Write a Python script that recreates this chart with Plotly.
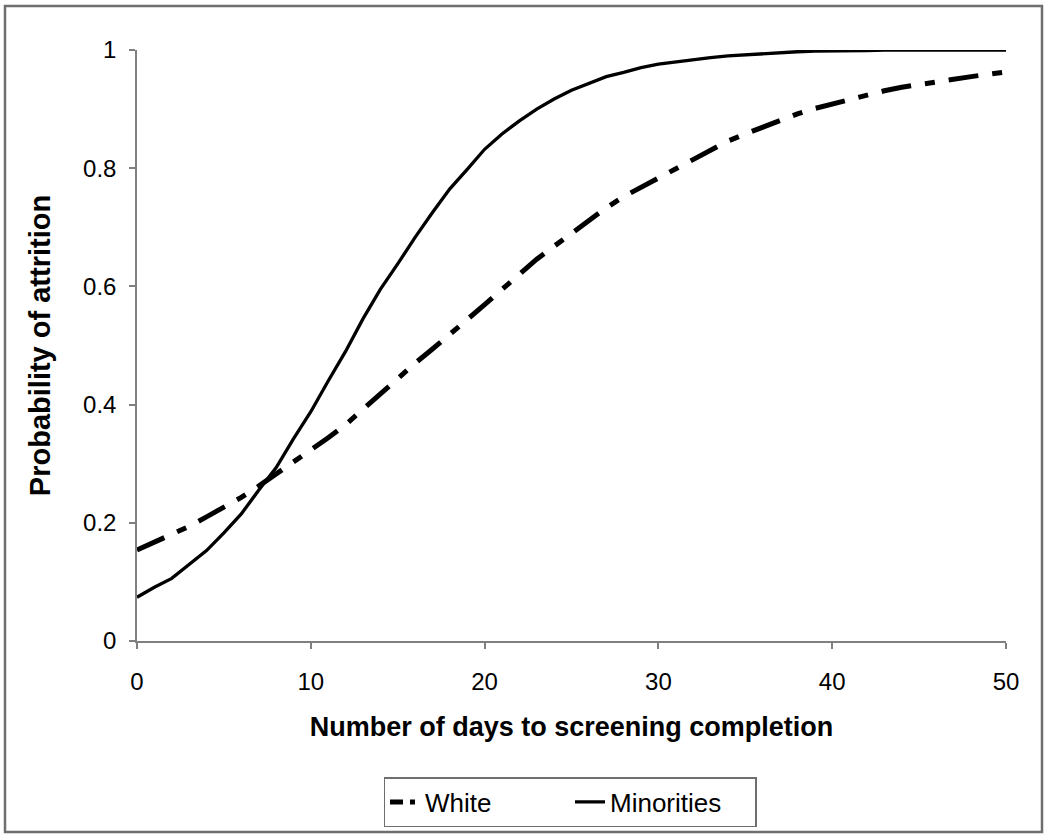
import plotly.graph_objects as go

days = list(range(0, 51))

white = [0.154, 0.167, 0.180, 0.194, 0.210, 0.226, 0.243, 0.262, 0.282, 0.302,
         0.323, 0.344, 0.366, 0.392, 0.418, 0.445, 0.470, 0.494, 0.518, 0.544,
         0.569, 0.594, 0.619, 0.646, 0.668, 0.690, 0.712, 0.733, 0.752, 0.768,
         0.783, 0.800, 0.816, 0.831, 0.846, 0.858, 0.870, 0.882, 0.892, 0.901,
         0.909, 0.917, 0.925, 0.931, 0.937, 0.942, 0.947, 0.951, 0.955, 0.959,
         0.963]

minorities = [0.074, 0.091, 0.106, 0.129, 0.153, 0.183, 0.215, 0.255, 0.293, 0.342,
              0.388, 0.440, 0.490, 0.545, 0.595, 0.638, 0.683, 0.725, 0.765, 0.798,
              0.832, 0.858, 0.880, 0.900, 0.917, 0.932, 0.943, 0.955, 0.962, 0.970,
              0.976, 0.980, 0.984, 0.987, 0.990, 0.992, 0.994, 0.995, 0.997, 0.998,
              0.998, 0.999, 0.999, 1.000, 1.000, 1.000, 1.000, 1.000, 1.000, 1.000,
              1.000]

x_ticks = [0, 10, 20, 30, 40, 50]
y_ticks = [0, 0.2, 0.4, 0.6, 0.8, 1]
y_tick_labels = ["0", "0.2", "0.4", "0.6", "0.8", "1"]

FONT = "Liberation Sans, Arial, sans-serif"

fig = go.Figure()
fig.add_trace(go.Scatter(
    x=days, y=white, mode="lines", name="White", legendgroup="white",
    showlegend=False,
    line=dict(color="black", width=5, dash="30px,14px,10px,14px"),
))
# legend entry for White with a shorter dash pattern so it reads as dash-dot
fig.add_trace(go.Scatter(
    x=[None], y=[None], mode="lines", name="White", legendgroup="white",
    showlegend=True, hoverinfo="skip",
    line=dict(color="black", width=5, dash="13px,7px,5px,7px"),
))
fig.add_trace(go.Scatter(
    x=days, y=minorities, mode="lines", name="Minorities",
    line=dict(color="black", width=3.3),
))

W, H = 1050, 839
L, R, T, B = 137, 44, 50, 198
pw, ph = W - L - R, H - T - B

def px_to_paper_x(px):
    return (px - L) / pw

def px_to_paper_y(py):
    return (H - B - py) / ph

fig.add_shape(type="rect", xref="paper", yref="paper",
              x0=px_to_paper_x(5), x1=px_to_paper_x(1042),
              y0=px_to_paper_y(832), y1=px_to_paper_y(6),
              line=dict(color="#6e6e6e", width=2.5), fillcolor="rgba(0,0,0,0)",
              layer="below")

fig.update_layout(
    width=W, height=H,
    margin=dict(l=L, r=R, t=T, b=B, pad=0),
    paper_bgcolor="white", plot_bgcolor="white",
    font=dict(family=FONT, color="black"),
    showlegend=True,
    legend=dict(
        orientation="h", xanchor="center", yanchor="top",
        x=px_to_paper_x(570), y=px_to_paper_y(777),
        bordercolor="#6e6e6e", borderwidth=1.5, bgcolor="white",
        font=dict(size=26, family=FONT, color="black"),
        entrywidth=140, entrywidthmode="pixels", traceorder="normal",
    ),
    xaxis=dict(
        range=[0, 50], tickvals=x_ticks, ticktext=[str(v) for v in x_ticks],
        showgrid=False, zeroline=False, showline=True,
        linecolor="#808080", linewidth=1.5,
        ticks="outside", ticklen=6, tickcolor="#808080", tickwidth=1.5,
        ticklabelstandoff=12,
        tickfont=dict(size=24, family=FONT, color="black"),
        title=dict(text="<b>Number of days to screening completion</b>",
                   font=dict(size=27, family=FONT, color="black"), standoff=24),
    ),
    yaxis=dict(
        range=[0, 1], tickvals=y_ticks, ticktext=y_tick_labels,
        showgrid=False, zeroline=False, showline=True,
        linecolor="#808080", linewidth=1.5,
        ticks="outside", ticklen=6, tickcolor="#808080", tickwidth=1.5,
        ticklabelstandoff=8,
        tickfont=dict(size=24, family=FONT, color="black"),
        title=dict(text="<b>Probability of attrition</b>",
                   font=dict(size=29, family=FONT, color="black"), standoff=24),
    ),
)

fig.write_html("out.html", config={"displayModeBar": False},
               post_script="document.body.style.margin='0';")
